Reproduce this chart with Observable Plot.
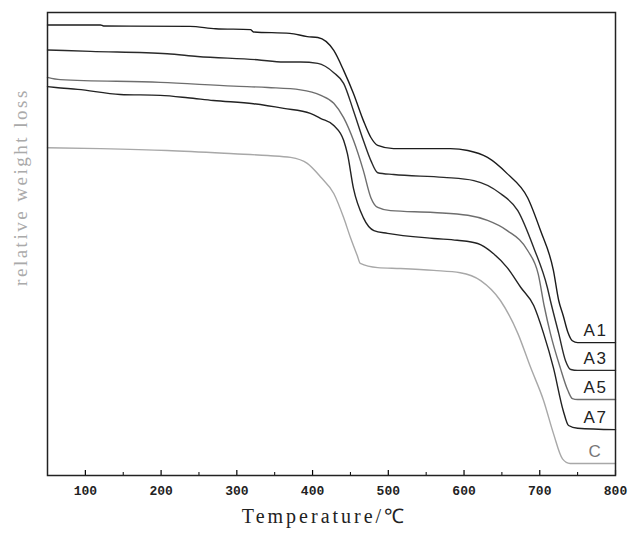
<!DOCTYPE html>
<html><head><meta charset="utf-8">
<script src="https://cdn.jsdelivr.net/npm/d3@7"></script>
<script src="https://cdn.jsdelivr.net/npm/@observablehq/plot@0.6"></script>
<style>body{margin:0;background:#fff}</style>
</head><body><div id="chart"></div>
<script>
const A1 = [[50,97.3],[120,97.3],[124,97.1],[238,97.0],[272,96.5],[318,96.3],[322,95.8],[370,95.5],[393,94.8],[407,94.6],[428,91.8],[441,87.5],[454,82.5],[467,76.7],[477,73.0],[486,71.3],[507,70.6],[582,70.6],[605,70.2],[631,68.7],[657,65.2],[684,60.0],[701,52.9],[718,44.3],[725,37.8],[731,34.5],[737,31.0],[743,29.1],[750,28.7],[800,28.7]];
const A3 = [[50,91.9],[107,91.6],[208,91.1],[248,90.5],[327,89.8],[362,89.3],[384,89.3],[407,89.0],[428,87.0],[441,84.7],[454,78.8],[467,72.4],[477,68.0],[486,65.4],[507,65.0],[573,64.4],[613,63.7],[648,60.9],[671,57.2],[692,49.2],[710,40.6],[714,37.8],[725,30.7],[734,24.8],[741,22.9],[750,22.7],[800,22.7]];
const A5 = [[50,86.0],[67,85.5],[199,84.9],[296,84.1],[341,83.8],[384,83.3],[411,82.1],[428,80.4],[441,77.3],[454,72.4],[467,65.9],[477,60.0],[486,57.9],[503,57.2],[560,56.8],[605,56.2],[631,55.1],[657,52.9],[684,48.6],[698,43.5],[706,36.5],[714,30.7],[727,23.3],[737,18.4],[743,16.6],[750,16.4],[800,16.4]];
const A7 = [[50,84.0],[61,83.8],[90,83.4],[146,82.3],[199,82.1],[235,81.6],[269,81.0],[322,80.3],[362,79.3],[397,78.2],[411,77.1],[428,75.6],[441,72.4],[446,69.5],[454,62.0],[467,55.7],[481,52.9],[499,52.3],[560,51.2],[591,50.8],[618,50.1],[639,47.9],[657,44.9],[675,40.6],[692,36.7],[705,30.7],[718,23.3],[731,14.0],[738,10.8],[750,10.2],[800,9.9]];
const C = [[50,70.8],[120,70.6],[208,70.2],[296,69.5],[341,69.1],[371,68.7],[393,67.4],[411,64.4],[428,60.9],[441,55.7],[450,51.4],[459,47.5],[463,45.8],[486,44.9],[516,44.7],[560,44.3],[595,43.8],[622,42.1],[648,37.8],[671,30.7],[688,23.3],[705,16.2],[718,9.1],[730,3.6],[740,2.6],[800,2.6]];

const seriesNames = ["A1","A3","A5","A7","C"];
const seriesData = [A1, A3, A5, A7, C];
const seriesColors = ["#1c1c1c","#2a2a2a","#6e6e6e","#222222","#a8a8a8"];
const majorTicks = [100,200,300,400,500,600,700,800];
const minorTicks = [150,250,350,450,550,650,750];
const xLabel = "Temperature/℃";
const yLabel = "relative weight loss";

const rows = [];
seriesNames.forEach((n, i) => seriesData[i].forEach(([t, v]) => rows.push({series: n, t, v})));
const lastPts = seriesNames.map((n, i) => {
  const d = seriesData[i];
  return {series: n, t: d[d.length-1][0], v: d[d.length-1][1]};
});

const chart = Plot.plot({
  width: 628, height: 538,
  marginLeft: 47, marginRight: 13, marginTop: 12, marginBottom: 63,
  x: {domain: [50, 800]},
  y: {domain: [0, 100]},
  color: {domain: seriesNames, range: seriesColors},
  style: {background: "#fff"},
  marks: [
    Plot.lineY(rows, {x: "t", y: "v", z: "series", stroke: "series", strokeWidth: 1.4, curve: "monotone-x"}),
    Plot.text(lastPts, {x: "t", y: "v", text: "series", dx: -20, dy: -12, fill: d => d.series === "C" ? "#777" : "#222",
      fontSize: 17, fontFamily: "Liberation Sans, sans-serif", textAnchor: "middle"}),
    Plot.axisX({ticks: majorTicks, tickSize: -5, text: null, label: null, strokeWidth: 1.2}),
    Plot.axisX({ticks: minorTicks, tickSize: -3, text: null, label: null}),
    Plot.axisX({ticks: majorTicks, tickSize: 0, tickPadding: 10, label: null, tickFormat: d => String(d),
      fontSize: 13, fontFamily: "Liberation Mono, monospace", fontWeight: "bold", fill: "#222"}),
    Plot.axisY({ticks: [], label: null}),
    Plot.text([xLabel], {frameAnchor: "bottom", dy: 47, dx: -7, text: d => d, fontSize: 20, textAnchor: "middle",
      fontFamily: "Liberation Serif, serif", fill: "#222"}),
    Plot.text([yLabel], {frameAnchor: "left", dx: -27, dy: -57, rotate: -90, text: d => d, fontSize: 19, textAnchor: "middle",
      fontFamily: "Liberation Serif, serif", fill: "#aaa"}),
    Plot.frame({stroke: "#222", strokeWidth: 1.5})
  ]
});
d3.select(chart).selectAll("text").each(function() {
  const t = this.textContent;
  if (t === xLabel) this.setAttribute("letter-spacing", "3px");
  if (t === yLabel) this.setAttribute("letter-spacing", "2.5px");
  if (seriesNames.includes(t)) this.setAttribute("letter-spacing", "1.5px");
});
document.getElementById("chart").appendChild(chart);
</script>
</body></html>
